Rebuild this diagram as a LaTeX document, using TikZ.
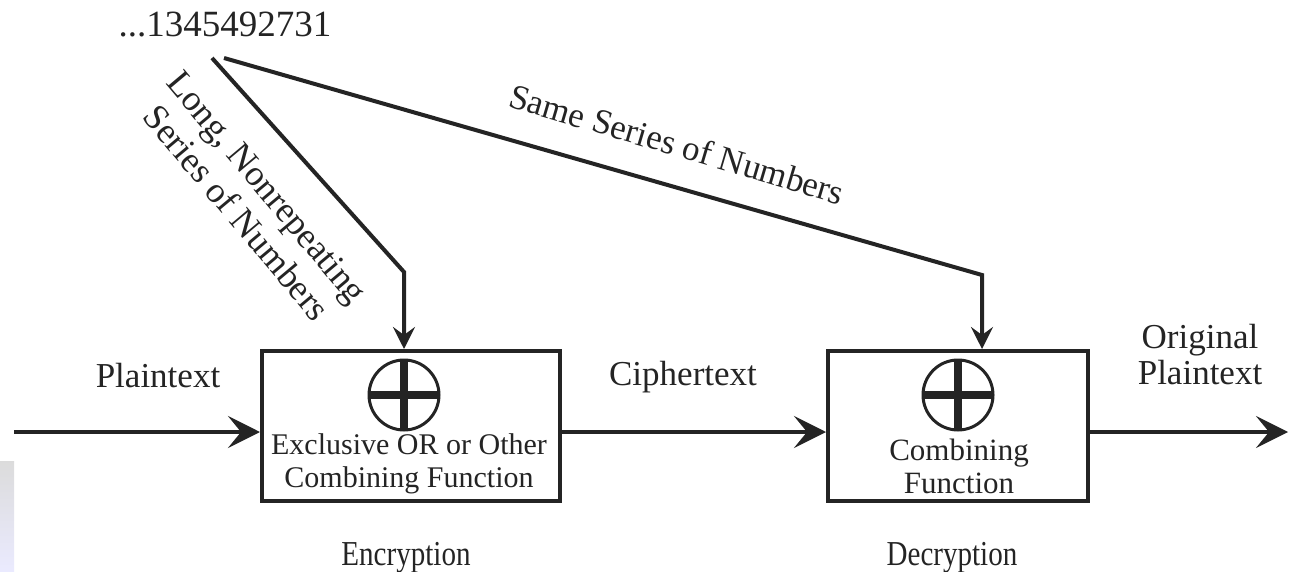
\documentclass[tikz,border=0pt]{standalone}
\usepackage{fontspec}
\setmainfont{Liberation Serif}
\usetikzlibrary{arrows.meta}
\definecolor{ink}{gray}{0.14}
\tikzset{fnbox/.style = {draw=ink, line width=4pt, minimum height=150pt, inner sep=0pt},
  lbl/.style = {text=ink, font=\fontsize{35}{36}\selectfont, inner sep=0pt},
  boxtxt/.style = {text=ink, font=\fontsize{30}{33}\selectfont, align=center, inner sep=0pt},
  flow/.style = {draw=ink, line width=4pt, -{Stealth[length=32pt, width=32pt, inset=13pt]}},
  feed/.style = {draw=ink, line width=4pt, -{Stealth[length=22pt, width=22pt, inset=8pt]}},
  xorsym/.style = {circle, draw=ink, line width=3pt, minimum size=70pt, inner sep=0pt, outer sep=0pt}}

\begin{document}
\begin{tikzpicture}[x=1pt, y=-1pt]
  \useasboundingbox (0,0) rectangle (1289,572);
  \shade [top color=black!14, bottom color=blue!8] (0,461) rectangle (14,572);

  % the two combining boxes
  \node [fnbox, minimum width=298pt] (enc) at (411,426) {};
  \node [fnbox, minimum width=260pt] (dec) at (958,426) {};
  \node [xorsym] (xor1) at (404,395) {};
  \node [xorsym] (xor2) at (958,395) {};
  \foreach \s in {xor1,xor2}
    \draw [ink, line width=8pt] (\s.north) -- (\s.south) (\s.west) -- (\s.east);
  \node [boxtxt] (enctxt) at (409,464) {Exclusive OR or Other\\Combining Function};
  \node [boxtxt, font=\fontsize{31}{33}\selectfont] (dectxt) at (959,466) {Combining\\Function};

  % key stream and its two taps
  \node [lbl, anchor=base, font=\fontsize{37}{38}\selectfont] (key) at (225,37) {...1345492731};
  \coordinate (tapA) at (212,58);
  \coordinate (tapB) at (224,58);
  \coordinate (bendA) at (404,272);
  \coordinate (bendB) at (982,275);
  \draw [feed] (tapA) -- (bendA) -- (bendA |- enc.north);
  \draw [feed] (tapB) -- (bendB) -- (bendB |- dec.north);
  \node [lbl, rotate=-50, align=center, font=\fontsize{36}{40}\selectfont] (longlbl) at (252,200) {Long, Nonrepeating\\Series of Numbers};
  \node [lbl, rotate=-16.5] (samelbl) at (677,144) {Same Series of Numbers};

  % data path
  \coordinate (src) at (14,432);
  \coordinate (dst) at (1288,432);
  \draw [flow] (src) -- (src -| enc.west);
  \draw [flow] (src -| enc.east) -- (src -| dec.west);
  \draw [flow] (src -| dec.east) -- (dst);
  \node [lbl, anchor=base] (ptxt) at (158,387) {Plaintext};
  \node [lbl, anchor=base] (ctxt) at (683,385) {Ciphertext};
  \node [lbl, align=center] (otxt) at (1200,355) {Original\\Plaintext};
  \node [lbl, anchor=base, xscale=0.83] (enclbl) at (406,565) {Encryption};
  \node [lbl, anchor=base, xscale=0.83] (declbl) at (952,565) {Decryption};
\end{tikzpicture}
\end{document}
